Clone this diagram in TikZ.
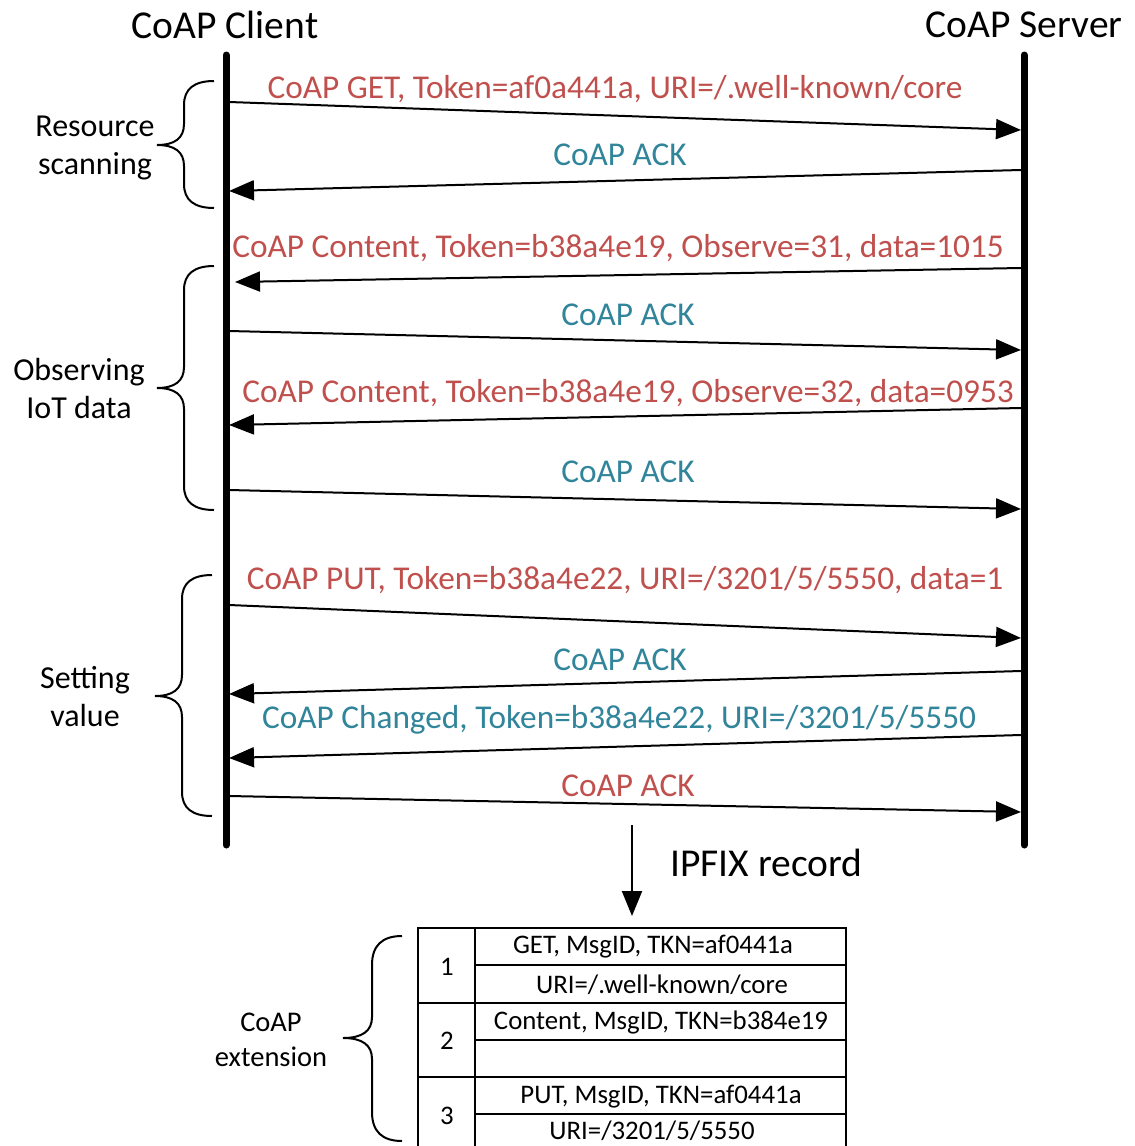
\documentclass[tikz,border=0pt]{standalone}
\usepackage{fontspec}
\setmainfont{Carlito}
\usetikzlibrary{arrows.meta,calc}
\definecolor{msgred}{RGB}{192,80,77}
\definecolor{msgteal}{RGB}{49,133,155}

% curly brace: #1 end x, #2 body x, #3 tip x, #4 top y, #5 mid y, #6 bottom y,
% #7 bend radius at the ends, #8 bend radius at the tip
% (each bend is a quadratic arc written as a cubic)
\newcommand\curlybrace[8]{%
  \draw[bracestyle] (#1,#4)
    .. controls ($(#1,#4)!2/3!(#2,#4)$) and ($(#2,#4+#7)!2/3!(#2,#4)$) .. (#2,#4+#7)
    -- (#2,#5-#8)
    .. controls ($(#2,#5-#8)!2/3!(#2,#5)$) and ($(#3,#5)!2/3!(#2,#5)$) .. (#3,#5)
    .. controls ($(#3,#5)!2/3!(#2,#5)$) and ($(#2,#5+#8)!2/3!(#2,#5)$) .. (#2,#5+#8)
    -- (#2,#6-#7)
    .. controls ($(#2,#6-#7)!2/3!(#2,#6)$) and ($(#1,#6)!2/3!(#2,#6)$) .. (#1,#6);}

\begin{document}
\begin{tikzpicture}[x=1pt,y=-1pt,
  lifeline/.style={line width=7pt,line cap=round},
  msg/.style={line width=2pt,-{Triangle[length=25pt,width=20pt]}},
  title/.style={font=\fontsize{39.5}{46}\selectfont,inner sep=0pt},
  lbl/.style={font=\fontsize{33.3}{40}\selectfont,inner sep=0pt},
  grp/.style={font=\fontsize{32}{38}\selectfont,align=center,inner sep=0pt},
  cell/.style={font=\fontsize{26.8}{32}\selectfont,inner sep=0pt},
  bracestyle/.style={line width=2pt},
  tbl/.style={line width=2.5pt}]

\clip (0,0) rectangle (1135,1146);
\fill[white] (0,0) rectangle (1135,1146);

% participants
\node[title] (client) at (225,25) {CoAP Client};
\node[title] (server) at (1024,25) {CoAP Server};
\coordinate (ctop) at (226,55);
\coordinate (cbot) at (226,845);
\coordinate (stop) at (1024,55);
\coordinate (sbot) at (1024,845);
\draw[lifeline] (ctop) -- (cbot);
\draw[lifeline] (stop) -- (sbot);

% message end points on the lifelines
\coordinate (c1) at (229,102);  \coordinate (s1) at (1021,130);
\coordinate (s2) at (1021,170); \coordinate (c2) at (229,191);
\coordinate (s3) at (1021,268); \coordinate (c3) at (235,282);
\coordinate (c4) at (229,331);  \coordinate (s4) at (1021,350);
\coordinate (s5) at (1021,408); \coordinate (c5) at (229,425);
\coordinate (c6) at (229,490);  \coordinate (s6) at (1021,509);
\coordinate (c7) at (229,605);  \coordinate (s7) at (1021,638);
\coordinate (s8) at (1021,671); \coordinate (c8) at (229,694);
\coordinate (s9) at (1021,735); \coordinate (c9) at (229,758);
\coordinate (c10) at (229,796); \coordinate (s10) at (1021,812);

\draw[msg] (c1) -- (s1);
\draw[msg] (s2) -- (c2);
\draw[msg] (s3) -- (c3);
\draw[msg] (c4) -- (s4);
\draw[msg] (s5) -- (c5);
\draw[msg] (c6) -- (s6);
\draw[msg] (c7) -- (s7);
\draw[msg] (s8) -- (c8);
\draw[msg] (s9) -- (c9);
\draw[msg] (c10) -- (s10);

% message labels
\node[lbl,text=msgred]  (l1)  at (615,89)  {CoAP GET, Token=af0a441a, URI=/.well-known/core};
\node[lbl,text=msgteal] (l2)  at (620,155) {CoAP ACK};
\node[lbl,text=msgred]  (l3)  at (618,248) {CoAP Content, Token=b38a4e19, Observe=31, data=1015};
\node[lbl,text=msgteal] (l4)  at (628,315) {CoAP ACK};
\node[lbl,text=msgred]  (l5)  at (628,393) {CoAP Content, Token=b38a4e19, Observe=32, data=0953};
\node[lbl,text=msgteal] (l6)  at (628,472) {CoAP ACK};
\node[lbl,text=msgred]  (l7)  at (625,580) {CoAP PUT, Token=b38a4e22, URI=/3201/5/5550, data=1};
\node[lbl,text=msgteal] (l8)  at (620,660) {CoAP ACK};
\node[lbl,text=msgteal] (l9)  at (619,720) {CoAP Changed, Token=b38a4e22, URI=/3201/5/5550};
\node[lbl,text=msgred]  (l10) at (628,786) {CoAP ACK};

% phase braces
\curlybrace{214}{184}{157}{81}{145}{208}{24}{21}
\node[grp] (g1) at (95,148) {Resource\\scanning};
\curlybrace{214}{184}{157}{266}{388}{510}{24}{21}
\node[grp] (g2) at (79,389) {Observing\\IoT data};
\curlybrace{212}{182}{155}{575}{696}{816}{24}{21}
\node[grp] (g3) at (85,697) {Setting\\value};

% export arrow
\coordinate (ea) at (632,825);
\coordinate (eb) at (632,916);
\draw[msg] (ea) -- (eb);
\node[title,anchor=west] (ipfix) at (670,863) {IPFIX record};

% record table
\draw[tbl] (418,928) rectangle (846,1160);
\draw[tbl] (475,928) -- (475,1160);
\draw[tbl] (418,1003) -- (846,1003);
\draw[tbl] (418,1077) -- (846,1077);
\draw[tbl] (475,965) -- (846,965);
\draw[tbl] (475,1040) -- (846,1040);
\draw[tbl] (475,1114) -- (846,1114);

\node[cell] (n1) at (447,967)  {1};
\node[cell] (n2) at (447,1041) {2};
\node[cell] (n3) at (447,1116) {3};
\node[cell] (r1a) at (653,947)  {GET, MsgID, TKN=af0441a};
\node[cell] (r1b) at (662,985)  {URI=/.well-known/core};
\node[cell] (r2a) at (661,1022) {Content, MsgID, TKN=b384e19};
\node[cell] (r3a) at (661,1097) {PUT, MsgID, TKN=af0441a};
\node[cell] (r3b) at (652,1131) {URI=/3201/5/5550};

\curlybrace{402}{372}{343}{936}{1038}{1141}{29}{21}
\node[grp,font=\fontsize{28.5}{35}\selectfont] (g4) at (271,1040) {CoAP\\extension};

\end{tikzpicture}
\end{document}
